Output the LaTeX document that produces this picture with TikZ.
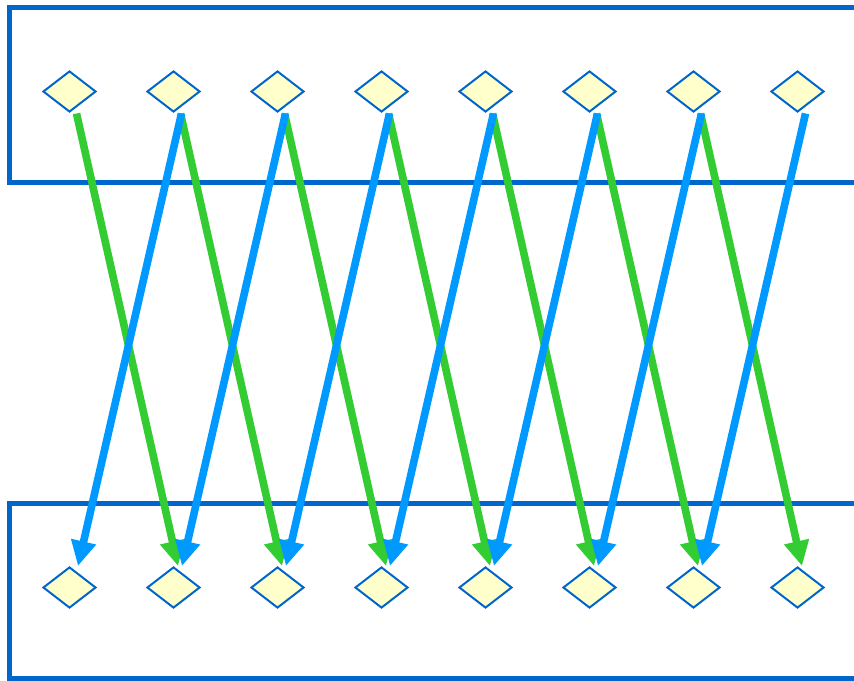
\documentclass[tikz,border=0pt]{standalone}
\usetikzlibrary{shapes.geometric,arrows.meta}
\definecolor{frameblue}{RGB}{0,102,204}
\definecolor{cellfill}{RGB}{255,255,204}
\definecolor{agreen}{RGB}{51,204,51}
\definecolor{ablue}{RGB}{0,153,255}
\tikzset{
  cell/.style={shape=diamond, draw=frameblue, fill=cellfill, line width=2pt,
    minimum width=53pt, minimum height=41pt, inner sep=0pt},
  frame/.style={draw=frameblue, line width=4.5pt},
  garrow/.style={draw=agreen, line width=7.6pt, -{Triangle[width=24pt,length=25pt]}},
  barrow/.style={draw=ablue, line width=7.6pt, -{Triangle[width=24pt,length=25pt]}}
}
\begin{document}
\begin{tikzpicture}[x=1pt,y=-1pt]
\clip (0,0) rectangle (854,680);
\fill[white] (0,0) rectangle (854,680);
% frames (open to the right)
\draw[frame] (870,7.5) -- (9.5,7.5) -- (9.5,182.5) -- (870,182.5);
\draw[frame] (870,503.5) -- (9.5,503.5) -- (9.5,678.5) -- (870,678.5);
% diamonds
\foreach \i in {1,...,8}{
  \node[cell] (t\i) at ({69.5+104*(\i-1)},91.5) {};
  \node[cell] (b\i) at ({69.5+104*(\i-1)},587.5) {};
}
% green arrows: top i -> bottom i+1
\foreach \i [evaluate=\i as \j using int(\i+1)] in {1,...,7}{
  \draw[garrow] ([xshift=7pt,yshift=-0.5pt]t\i.south) -- ([xshift=4.5pt]b\j.north);
}
% blue arrows: top i+1 -> bottom i
\foreach \i [evaluate=\i as \j using int(\i+1)] in {1,...,7}{
  \draw[barrow] ([xshift=8pt,yshift=-0.5pt]t\j.south) -- ([xshift=8.5pt]b\i.north);
}
\end{tikzpicture}
\end{document}
